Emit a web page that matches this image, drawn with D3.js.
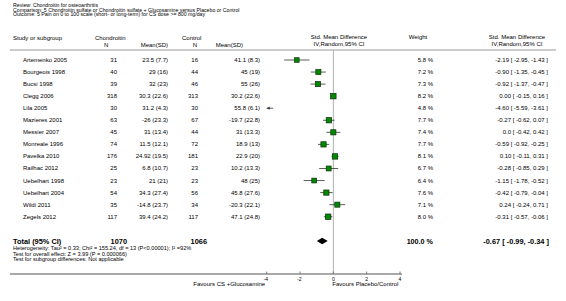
<!DOCTYPE html>
<html lang="en">
<head>
    <meta charset="UTF-8">
    <title>Chondroitin for osteoarthritis - forest plot</title>
    <script src="https://d3js.org/d3.v7.min.js"></script>
    <style>
        body { margin: 0; background: #fff; }
        svg { font-family: "Liberation Sans", Arial, sans-serif; display: block; }
    </style>
</head>
<body>
    <svg width="566" height="301"></svg>

    <script>
        // header text
        const titleLines = [
            "Review:  Chondroitin for osteoarthritis",
            "Comparison:  5 Chondroitin sulfate or Chondroitin sulfate + Glucosamine versus Placebo or Control",
            "Outcome:  5 Pain on 0 to 100 scale (short- or long-term) for CS dose >= 800 mg/day"
        ];

        // study rows
        const studies = ["Artemenko 2005", "Bourgeois 1998", "Bucsi 1998", "Clegg 2006", "Lila 2005",
            "Mazieres 2001", "Messier 2007", "Monreale 1996", "Pavelka 2010", "Railhac 2012",
            "Uebelhart 1998", "Uebelhart 2004", "Wildi 2011", "Zegels 2012"];
        const expN = [31, 40, 39, 318, 30, 63, 45, 74, 176, 25, 23, 54, 35, 117];
        const expMeanSD = ["23.5 (7.7)", "29 (16)", "32 (23)", "30.3 (22.6)", "31.2 (4.3)", "-26 (23.3)",
            "31 (13.4)", "11.5 (12.1)", "24.92 (19.5)", "6.8 (10.7)", "21 (21)", "34.3 (27.4)",
            "-14.8 (23.7)", "39.4 (24.2)"];
        const ctlN = [16, 44, 46, 313, 30, 67, 44, 72, 181, 23, 23, 56, 34, 117];
        const ctlMeanSD = ["41.1 (8.3)", "45 (19)", "55 (26)", "30.2 (22.6)", "55.8 (6.1)", "-19.7 (22.8)",
            "31 (13.3)", "18.9 (13)", "22.9 (20)", "10.2 (13.3)", "48 (25)", "45.8 (27.6)",
            "-20.3 (22.1)", "47.1 (24.8)"];
        const weights = [5.8, 7.2, 7.3, 8.2, 4.8, 7.7, 7.4, 7.7, 8.1, 6.7, 6.4, 7.6, 7.1, 8.0];
        const smd = [-2.19, -0.90, -0.92, 0.00, -4.60, -0.27, 0.0, -0.59, 0.10, -0.28, -1.15, -0.42, 0.24, -0.31];
        const ciLow = [-2.95, -1.35, -1.37, -0.15, -5.59, -0.62, -0.42, -0.92, -0.11, -0.85, -1.78, -0.79, -0.24, -0.57];
        const ciHigh = [-1.43, -0.45, -0.47, 0.16, -3.61, 0.07, 0.42, -0.25, 0.31, 0.29, -0.52, -0.04, 0.71, -0.06];
        const smdText = ["-2.19 [ -2.95, -1.43 ]", "-0.90 [ -1.35, -0.45 ]", "-0.92 [ -1.37, -0.47 ]",
            "0.00 [ -0.15, 0.16 ]", "-4.60 [ -5.59, -3.61 ]", "-0.27 [ -0.62, 0.07 ]", "0.0 [ -0.42, 0.42 ]",
            "-0.59 [ -0.92, -0.25 ]", "0.10 [ -0.11, 0.31 ]", "-0.28 [ -0.85, 0.29 ]", "-1.15 [ -1.78, -0.52 ]",
            "-0.42 [ -0.79, -0.04 ]", "0.24 [ -0.24, 0.71 ]", "-0.31 [ -0.57, -0.06 ]"];

        // pooled result
        const totalExpN = 1070;
        const totalCtlN = 1066;
        const pooled = { est: -0.67, lo: -0.99, hi: -0.34 };
        const footLines = [
            "Heterogeneity: Tau\u00b2 = 0.33; Chi\u00b2 = 155.24, df = 13 (P<0.00001); I\u00b2 =92%",
            "Test for overall effect: Z = 3.99 (P = 0.000066)",
            "Test for subgroup differences: Not applicable"
        ];

        // axis
        const ticks = [-4, -2, 0, 2, 4];
        const favoursLeft = "Favours CS +Glucosamine";
        const favoursRight = "Favours Placebo/Control";

        const svg = d3.select("svg");
        const x = d3.scaleLinear().domain([-4, 4]).range([266.7, 400]);
        const y = d3.scaleLinear().domain([0, studies.length - 1]).range([60, 216.7]);
        const yTotal = 241;
        const yAxis = 274;

        const txt = (xp, yp, s, size, anchor, weight) => svg.append("text")
            .attr("x", xp).attr("y", yp)
            .attr("font-size", size)
            .attr("text-anchor", anchor || "start")
            .attr("font-weight", weight || "normal")
            .attr("fill", "#000")
            .text(s);

        // title
        titleLines.forEach((s, i) => txt(13, 6.8 + i * 4.8, s, 5.2));

        // column headers
        const h1 = 40, h2 = 46.5;
        txt(13, h1, "Study or subgroup", 6);
        txt(95, h1, "Chondroitin", 6);
        txt(104, h2, "N", 6);
        txt(168, h2, "Mean(SD)", 6, "end");
        txt(182, h1, "Control", 6);
        txt(197, h2, "N", 6, "end");
        txt(243, h2, "Mean(SD)", 6, "end");
        txt(339, h1 - 1, "Std. Mean Difference", 6, "middle");
        txt(339, h2 - 1, "IV,Random,95% CI", 6, "middle");
        txt(418, h1 - 1, "Weight", 6, "middle");
        txt(517, h1 - 1, "Std. Mean Difference", 6, "middle");
        txt(517, h2 - 1, "IV,Random,95% CI", 6, "middle");

        svg.append("line")
            .attr("x1", 10).attr("x2", 556)
            .attr("y1", 50).attr("y2", 50)
            .attr("stroke", "#999").attr("stroke-width", 1);

        // zero line
        svg.append("line")
            .attr("x1", x(0)).attr("x2", x(0))
            .attr("y1", 50).attr("y2", yAxis)
            .attr("stroke", "#b0b0b0").attr("stroke-width", 1);

        // rows
        const rows = svg.append("g").selectAll("g")
            .data(studies)
            .join("g");

        rows.each(function (name, i) {
            const g = d3.select(this);
            const yy = y(i);
            const b = yy + 2;
            g.append("text").attr("x", 23).attr("y", b).attr("font-size", 6).text(name);
            g.append("text").attr("x", 117).attr("y", b).attr("font-size", 6).attr("text-anchor", "end").text(expN[i]);
            g.append("text").attr("x", 168).attr("y", b).attr("font-size", 6).attr("text-anchor", "end").text(expMeanSD[i]);
            g.append("text").attr("x", 198).attr("y", b).attr("font-size", 6).attr("text-anchor", "end").text(ctlN[i]);
            g.append("text").attr("x", 260).attr("y", b).attr("font-size", 6).attr("text-anchor", "end").text(ctlMeanSD[i]);
            g.append("text").attr("x", 433).attr("y", b).attr("font-size", 6).attr("text-anchor", "end").text(weights[i].toFixed(1) + " %");
            g.append("text").attr("x", 548).attr("y", b).attr("font-size", 6).attr("text-anchor", "end").text(smdText[i]);

            // confidence interval, clipped to the axis range
            const [d0, d1] = x.domain();
            const lo = Math.max(ciLow[i], d0), hi = Math.min(ciHigh[i], d1);
            if (hi > lo) {
                g.append("line")
                    .attr("x1", x(lo)).attr("x2", x(hi))
                    .attr("y1", yy).attr("y2", yy)
                    .attr("stroke", "#333").attr("stroke-width", 0.8);
            }
            if (ciLow[i] < d0) {
                g.append("path")
                    .attr("d", `M${x(d0)},${yy} l3,-1.6 l0,3.2 z`)
                    .attr("fill", "#333");
            }
            if (smd[i] >= d0 && smd[i] <= d1) {
                const s = 1.9 * Math.sqrt(weights[i]);
                g.append("rect")
                    .attr("x", x(smd[i]) - s / 2).attr("y", yy - s / 2)
                    .attr("width", s).attr("height", s)
                    .attr("fill", "#008a00")
                    .attr("stroke", "#0f2a0f").attr("stroke-width", 0.7);
            }
        });

        // total row
        txt(13, yTotal + 2.5, "Total (95% CI)", 7.4, "start", "bold");
        txt(127, yTotal + 2.5, totalExpN, 7.4, "end", "bold");
        txt(207, yTotal + 2.5, totalCtlN, 7.4, "end", "bold");
        txt(433, yTotal + 2.5, d3.sum(weights).toFixed(1) + " %", 7.2, "end", "bold");
        txt(549, yTotal + 2.5,
            `${pooled.est.toFixed(2)} [ ${pooled.lo.toFixed(2)}, ${pooled.hi.toFixed(2)} ]`, 7.4, "end", "bold");

        svg.append("path")
            .attr("d", `M${x(pooled.lo)},${yTotal} L${x(pooled.est)},${yTotal - 3.3} L${x(pooled.hi)},${yTotal} L${x(pooled.est)},${yTotal + 3.3} Z`)
            .attr("fill", "#000");

        footLines.forEach((s, i) => txt(13, 250 + i * 5.5, s, 5.6));

        // x axis
        svg.append("line")
            .attr("x1", 10).attr("x2", x(4) + 2)
            .attr("y1", yAxis).attr("y2", yAxis)
            .attr("stroke", "#8c8c8c").attr("stroke-width", 1.5);

        svg.append("g").selectAll("line")
            .data(ticks)
            .join("line")
            .attr("x1", d => x(d)).attr("x2", d => x(d))
            .attr("y1", yAxis - 2.5).attr("y2", yAxis)
            .attr("stroke", "#666").attr("stroke-width", 0.8);

        svg.append("g").selectAll("text")
            .data(ticks)
            .join("text")
            .attr("x", d => x(d) + (d < 0 ? -0.8 : 0))
            .attr("y", yAxis + 6.5)
            .attr("font-size", 5)
            .attr("text-anchor", "middle")
            .text(d => d);

        txt(x(-4) - 1.5, yAxis + 12, favoursLeft, 6, "end");
        txt(x(0) - 1, yAxis + 12, favoursRight, 6, "start");
    </script>
</body>
</html>
